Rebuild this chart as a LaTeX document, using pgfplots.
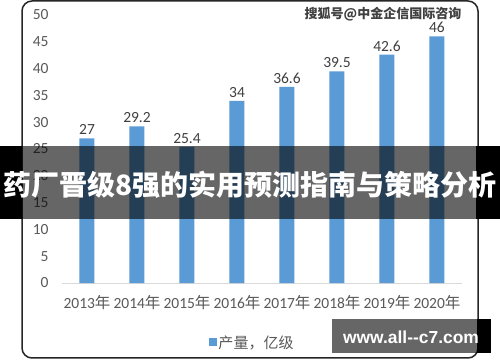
\documentclass[border=0pt]{standalone}
\usepackage{fontspec}
\setmainfont{Carlito}
\newfontfamily\cjk{Noto Sans CJK SC}
\newfontfamily\webfont{Liberation Sans}
\usepackage{pgfplots}
\pgfplotsset{compat=1.18}
\definecolor{barblue}{HTML}{5B9BD5}
\definecolor{txt}{HTML}{595959}
\definecolor{lbl}{HTML}{404040}
\definecolor{axl}{HTML}{D9D9D9}
\newcommand{\nian}{{\cjk 年}}
\begin{document}
\begin{tikzpicture}
\useasboundingbox (0bp,0bp) rectangle (500bp,362bp);
\fill[white] (0bp,0bp) rectangle (500bp,362bp);
\draw[line width=1.5bp, color=black!85, rounded corners=10bp] (22bp,4bp) rectangle (478bp,361bp);
\begin{axis}[
  at={(62bp,79bp)}, anchor=south west,
  scale only axis, width=400bp, height=268bp,
  xmin=-0.5, xmax=7.5, ymin=0, ymax=50,
  ybar, bar width=15bp,
  axis lines*=left,
  x axis line style={draw=axl, line width=1bp},
  y axis line style={draw=none},
  xtick={0,...,7},
  xticklabels={2013\nian,2014\nian,2015\nian,2016\nian,2017\nian,2018\nian,2019\nian,2020\nian},
  ytick={0,5,...,50},
  major tick length=0pt,
  /pgf/number format/assume math mode=true,
  tick label style={font=\fontsize{15.5bp}{18bp}\selectfont, text=txt},
  xticklabel style={yshift=-9bp},
  yticklabel style={xshift=-10bp},
  nodes near coords,
  point meta=explicit symbolic,
  nodes near coords style={font=\fontsize{15.5bp}{18bp}\selectfont, text=lbl},
  legend style={at={(0.475,-0.222)}, anchor=center, draw=none, fill=none,
    font=\fontsize{15bp}{18bp}\selectfont, text=txt},
  legend image code/.code={\fill[barblue] (0bp,-4bp) rectangle (8bp,4bp);},
  clip=false,
]
\addplot[fill=barblue, draw=none] coordinates {
  (0,27)[27] (1,29.2)[29.2] (2,25.4)[25.4] (3,34)[34]
  (4,36.6)[36.6] (5,39.5)[39.5] (6,42.6)[42.6] (7,46)[46]
};
\addlegendentry{{\cjk 产量，亿级}}
\end{axis}
\fill[black] (0bp,143bp) rectangle (22bp,216bp);
\fill[black, opacity=0.6] (22bp,143bp) rectangle (476bp,216bp);
\fill[black] (476bp,143bp) rectangle (500bp,216bp);
\node[text=white, inner sep=0pt, font=\cjk\bfseries\fontsize{28bp}{30bp}\selectfont] at (250bp,177bp) {药厂晋级8强的实用预测指南与策略分析};
\node[text=black!75, inner sep=0pt, font=\cjk\bfseries\fontsize{13bp}{15bp}\selectfont] at (383bp,348bp) {搜狐号@中金企信国际咨询};
\fill[black, opacity=0.6] (332bp,9bp) rectangle (477bp,43bp);
\fill[black] (477bp,9bp) rectangle (491bp,43bp);
\node[text=white, inner sep=0pt, font=\webfont\bfseries\fontsize{17.4bp}{20bp}\selectfont] at (411bp,25bp) {www.all-{}-c7.com};
\end{tikzpicture}
\end{document}
